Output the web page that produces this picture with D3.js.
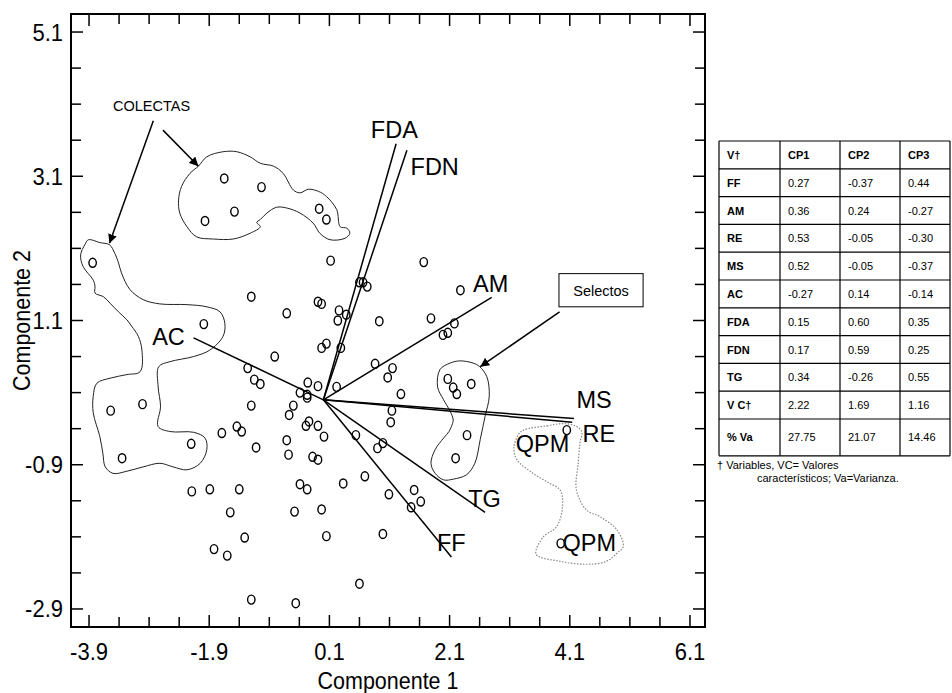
<!DOCTYPE html>
<html>
<head>
<meta charset="utf-8">
<script src="https://cdn.jsdelivr.net/npm/d3@7"></script>
<style>
body { margin: 0; background: #fff; }
text { font-family: Arial, "Liberation Sans", sans-serif; fill: #000; }
</style>
</head>
<body>
<script>
// individual scores (Componente 1, Componente 2)
var scores = [
  [-1.65,3.07],[-1.03,2.95],[-1.48,2.61],[-1.97,2.48],[-0.07,2.65],[0.05,2.50],
  [-3.84,1.90],[0.12,1.93],[-1.20,1.43],[0.60,1.63],[0.66,1.63],[0.73,1.57],
  [-0.09,1.36],[-0.03,1.33],[-0.61,1.20],[0.26,1.24],[0.38,1.18],[0.24,1.10],
  [0.93,1.09],[-1.99,1.05],[1.67,1.91],[2.28,1.52],[1.79,1.13],[2.18,1.06],
  [1.99,0.90],[2.07,0.93],[0.05,0.78],[-0.03,0.72],[0.29,0.72],[-0.81,0.60],
  [-1.26,0.44],[-1.15,0.28],[-1.05,0.22],[0.86,0.50],[1.15,0.44],[1.07,0.31],
  [1.29,0.08],[-0.26,0.24],[-0.09,0.19],[0.22,0.18],[-0.39,0.10],[-0.27,0.07],
  [-0.27,0.03],[-0.50,-0.08],[-0.57,-0.21],[1.14,-0.15],[1.12,-0.31],[-0.24,-0.30],
  [-0.29,-0.36],[-0.09,-0.36],[0.01,-0.51],[0.54,-0.49],[-0.61,-0.56],[0.99,-0.60],
  [0.90,-0.67],[-0.58,-0.76],[-0.18,-0.79],[-0.09,-0.83],[0.69,-1.06],[0.33,-1.16],
  [-0.39,-1.17],[-0.27,-1.24],[1.09,-1.31],[-0.48,-1.55],[-0.03,-1.52],[0.05,-1.89],
  [0.99,-1.86],[0.60,-2.55],[-0.46,-2.82],[-1.20,-2.77],[-1.82,-2.07],[-1.60,-2.16],
  [-1.31,-1.91],[-1.55,-1.56],[-2.19,-1.27],[-1.89,-1.24],[-1.40,-1.24],[-1.20,-0.08],
  [-1.69,-0.46],[-1.44,-0.37],[-1.36,-0.44],[-2.20,-0.61],[-1.12,-0.66],[-3.54,-0.15],
  [-3.01,-0.06],[-3.35,-0.81],[2.07,0.29],[2.16,0.17],[2.22,0.08],[2.46,0.22],
  [2.39,-0.49],[2.20,-0.81],[1.51,-1.25],[1.62,-1.41],[1.46,-1.49],[4.05,-0.42],
  [3.95,-1.99]
];

// variable vectors (end points on the biplot)
var vecNames = ["FDA", "FDN", "AM", "MS", "RE", "TG", "FF", "AC"];
var vecX = [1.21, 1.39, 2.80, 4.17, 4.14, 2.69, 2.13, -2.16];
var vecY = [3.55, 3.46, 1.42, -0.26, -0.31, -1.56, -2.18, 0.86];

// labels on the plot (text, x, baseline y)
var plotLabels = [
  ["FDA", 0.79, 3.63], ["FDN", 1.45, 3.12], ["AM", 2.49, 1.49], ["AC", -2.85, 0.76],
  ["MS", 4.21, -0.11], ["RE", 4.31, -0.58], ["QPM", 3.20, -0.73], ["TG", 2.41, -1.49],
  ["FF", 1.89, -2.10], ["QPM", 3.98, -2.10]
];

// hand-drawn group outlines
var colectasTop = [
  [-2.08,3.24],[-1.94,3.37],[-1.67,3.44],[-1.44,3.44],[-1.22,3.37],[-1.05,3.28],[-0.83,3.24],
  [-0.67,3.14],[-0.50,2.91],[-0.39,2.87],[-0.25,2.92],[-0.08,2.89],[0.05,2.82],[0.22,2.64],
  [0.28,2.40],[0.39,2.38],[0.44,2.31],[0.36,2.24],[0.11,2.22],[-0.06,2.31],[-0.17,2.45],
  [-0.39,2.59],[-0.61,2.66],[-0.78,2.67],[-0.94,2.59],[-1.05,2.50],[-1.11,2.46],[-1.05,2.40],
  [-1.22,2.31],[-1.50,2.23],[-1.83,2.23],[-2.11,2.26],[-2.27,2.40],[-2.39,2.59],[-2.41,2.77],
  [-2.36,2.96],[-2.22,3.14]
];
var colectasLeft = [
  [-3.91,2.22],[-3.72,2.18],[-3.56,2.15],[-3.47,2.03],[-3.41,1.90],[-3.36,1.76],[-3.22,1.53],
  [-3.00,1.39],[-2.72,1.33],[-2.27,1.32],[-1.94,1.29],[-1.72,1.22],[-1.64,1.06],[-1.67,0.88],
  [-1.89,0.69],[-2.16,0.60],[-2.55,0.53],[-2.74,0.46],[-2.75,0.18],[-2.71,-0.09],[-2.75,-0.37],
  [-2.55,-0.44],[-2.16,-0.45],[-1.97,-0.53],[-1.94,-0.69],[-2.05,-0.88],[-2.27,-0.97],
  [-2.50,-0.93],[-2.72,-0.88],[-3.00,-0.93],[-3.27,-0.99],[-3.50,-1.02],[-3.63,-0.93],
  [-3.67,-0.74],[-3.72,-0.51],[-3.83,-0.18],[-3.83,0.05],[-3.77,0.23],[-3.55,0.30],
  [-3.27,0.35],[-3.05,0.39],[-3.02,0.69],[-3.08,0.88],[-3.19,1.02],[-3.27,1.11],[-3.41,1.22],
  [-3.55,1.34],[-3.66,1.43],[-3.80,1.48],[-3.80,1.57],[-3.83,1.66],[-4.00,1.85],[-4.04,2.01],
  [-3.97,2.15]
];
var selectos = [
  [2.60,0.46],[2.72,0.32],[2.76,0.05],[2.69,-0.23],[2.61,-0.55],[2.52,-0.88],[2.38,-1.04],
  [2.16,-1.10],[2.00,-1.11],[1.86,-1.02],[1.79,-0.88],[1.86,-0.69],[2.00,-0.53],[2.09,-0.44],
  [2.13,-0.37],[2.16,-0.28],[2.11,-0.16],[2.00,0.00],[1.90,0.18],[1.94,0.42],[2.11,0.51],
  [2.27,0.54],[2.49,0.51]
];
var qpm = [
  [3.33,-0.42],[3.72,-0.36],[3.99,-0.33],[4.19,-0.36],[4.30,-0.44],[4.27,-0.60],[4.24,-0.88],
  [4.21,-1.25],[4.38,-1.53],[4.60,-1.62],[4.88,-1.80],[4.99,-2.03],[4.88,-2.13],[4.71,-2.24],
  [4.38,-2.28],[3.94,-2.24],[3.54,-2.14],[3.66,-1.90],[3.88,-1.76],[3.98,-1.48],[3.94,-1.25],
  [3.77,-1.16],[3.49,-1.02],[3.22,-0.83],[3.17,-0.67],[3.24,-0.49]
];

// annotation arrows [x1, y1, x2, y2]
var arrows = [[-2.83,3.87,-3.56,2.17], [-2.67,3.74,-2.08,3.24], [3.93,1.22,2.61,0.46]];

// ticks
var tickX = [-3.9, -1.9, 0.1, 2.1, 4.1, 6.1];
var tickY = [-2.9, -0.9, 1.1, 3.1, 5.1];

// table of loadings
var tableHead = ["V†", "CP1", "CP2", "CP3"];
var tableVars = ["FF", "AM", "RE", "MS", "AC", "FDA", "FDN", "TG", "V C†", "% Va"];
var cp1 = ["0.27", "0.36", "0.53", "0.52", "-0.27", "0.15", "0.17", "0.34", "2.22", "27.75"];
var cp2 = ["-0.37", "0.24", "-0.05", "-0.05", "0.14", "0.60", "0.59", "-0.26", "1.69", "21.07"];
var cp3 = ["0.44", "-0.27", "-0.30", "-0.37", "-0.14", "0.35", "0.25", "0.55", "1.16", "14.46"];
var footnote = ["† Variables, VC= Valores", "característicos; Va=Varianza."];

(function() {
var W = 952, H = 693;
var mL = 71, mR = 705, mT = 14, mB = 627;
var stretch = 1.12; // axis text in the original is drawn a little taller than wide

var svg = d3.select("body").append("svg")
    .attr("width", W)
    .attr("height", H);

var x = d3.scaleLinear().domain([-4.2, 6.35]).range([mL, mR]);
var y = d3.scaleLinear().domain([-3.15, 5.35]).range([mB, mT]);

svg.append("defs").append("marker")
    .attr("id", "head")
    .attr("viewBox", "0 0 10 10")
    .attr("refX", 10).attr("refY", 5)
    .attr("markerWidth", 9).attr("markerHeight", 9)
    .attr("markerUnits", "userSpaceOnUse")
    .attr("orient", "auto")
  .append("path")
    .attr("d", "M0,0L10,5L0,10z")
    .attr("fill", "#000");

// minor tick positions every 0.5
var minorX = d3.range(-3.9, 6.11, 0.5), minorY = d3.range(-2.9, 5.11, 0.5);
function isMajor(v, list) { return list.some(function(t) { return Math.abs(t - v) < 1e-6; }); }

var ax = svg.append("g").attr("stroke", "#000").attr("stroke-width", 1.5);
minorX.forEach(function(v) {
  var L = isMajor(v, tickX) ? 12 : 10;
  ax.append("line").attr("x1", x(v)).attr("x2", x(v)).attr("y1", mB).attr("y2", mB - L);
  ax.append("line").attr("x1", x(v)).attr("x2", x(v)).attr("y1", mT).attr("y2", mT + L);
});
minorY.forEach(function(v) {
  var L = isMajor(v, tickY) ? 12 : 10;
  ax.append("line").attr("y1", y(v)).attr("y2", y(v)).attr("x1", mL).attr("x2", mL + L);
  ax.append("line").attr("y1", y(v)).attr("y2", y(v)).attr("x1", mR).attr("x2", mR - L);
});
svg.append("rect")
    .attr("x", mL).attr("y", mT)
    .attr("width", mR - mL).attr("height", mB - mT)
    .attr("fill", "none").attr("stroke", "#000").attr("stroke-width", 2);

svg.selectAll(".tx").data(tickX).enter().append("text")
    .attr("transform", function(d) { return "translate(" + x(d) + "," + (mB + 33) + ") scale(1," + stretch + ")"; })
    .attr("text-anchor", "middle")
    .attr("font-size", 22)
    .text(function(d) { return d.toFixed(1); });
svg.selectAll(".ty").data(tickY).enter().append("text")
    .attr("transform", function(d) { return "translate(" + (mL - 8) + "," + (y(d) + 8.5) + ") scale(1," + stretch + ")"; })
    .attr("text-anchor", "end")
    .attr("font-size", 22)
    .text(function(d) { return d.toFixed(1); });

svg.append("text")
    .attr("transform", "translate(" + ((mL + mR) / 2) + ",689) scale(1," + stretch + ")")
    .attr("text-anchor", "middle").attr("font-size", 21.5)
    .text("Componente 1");
svg.append("text")
    .attr("transform", "translate(30," + ((mT + mB) / 2) + ") rotate(-90) scale(1," + stretch + ")")
    .attr("text-anchor", "middle").attr("font-size", 21.5)
    .text("Componente 2");

// group outlines
var outline = d3.line().x(function(d) { return x(d[0]); }).y(function(d) { return y(d[1]); })
    .curve(d3.curveCatmullRomClosed);
[colectasTop, colectasLeft, selectos].forEach(function(p) {
  svg.append("path").attr("d", outline(p))
      .attr("fill", "none").attr("stroke", "#222").attr("stroke-width", 1);
});
svg.append("path").attr("d", outline(qpm))
    .attr("fill", "none").attr("stroke", "#888").attr("stroke-width", 1.2)
    .attr("stroke-dasharray", "1.5,1.5");

// vectors
svg.selectAll(".vec").data(vecNames).enter().append("line")
    .attr("x1", x(0)).attr("y1", y(0))
    .attr("x2", function(d, i) { return x(vecX[i]); })
    .attr("y2", function(d, i) { return y(vecY[i]); })
    .attr("stroke", "#000").attr("stroke-width", 1.5);

// points
svg.selectAll(".pt").data(scores).enter().append("ellipse")
    .attr("cx", function(d) { return x(d[0]); })
    .attr("cy", function(d) { return y(d[1]); })
    .attr("rx", 3.7).attr("ry", 4.5)
    .attr("fill", "none").attr("stroke", "#000").attr("stroke-width", 1.4);

svg.selectAll(".lab").data(plotLabels).enter().append("text")
    .attr("x", function(d) { return x(d[1]); })
    .attr("y", function(d) { return y(d[2]); })
    .attr("font-size", 23.5)
    .text(function(d) { return d[0]; });

// annotations
svg.selectAll(".arr").data(arrows).enter().append("line")
    .attr("x1", function(d) { return x(d[0]); }).attr("y1", function(d) { return y(d[1]); })
    .attr("x2", function(d) { return x(d[2]); }).attr("y2", function(d) { return y(d[3]); })
    .attr("stroke", "#000").attr("stroke-width", 1.5)
    .attr("marker-end", "url(#head)");
svg.append("text")
    .attr("x", x(-2.86)).attr("y", y(4.0))
    .attr("text-anchor", "middle").attr("font-size", 14.5)
    .text("COLECTAS");
svg.append("rect")
    .attr("x", x(3.92)).attr("y", y(1.75))
    .attr("width", x(5.32) - x(3.92)).attr("height", y(1.29) - y(1.75))
    .attr("fill", "#fff").attr("stroke", "#000").attr("stroke-width", 1);
svg.append("text")
    .attr("x", x(4.62)).attr("y", y(1.44))
    .attr("text-anchor", "middle").attr("font-size", 14.5)
    .text("Selectos");

// loadings table
var colX = [719, 780, 840, 900, 950];
var rowTop = 141, rowH = 27.8;
var tb = svg.append("g");
var rows = [tableHead].concat(tableVars.map(function(v, i) { return [v, cp1[i], cp2[i], cp3[i]]; }));
var rowY = rows.map(function(r, i) { return rowTop + i * rowH; });
var lastH = rowH + 9;
var tableBottom = rowY[rows.length - 1] + lastH;
rows.forEach(function(r, i) {
  var h = i === rows.length - 1 ? lastH : rowH;
  r.forEach(function(c, j) {
    tb.append("text")
        .attr("x", colX[j] + 8)
        .attr("y", rowY[i] + h / 2 + 4)
        .attr("font-size", 11)
        .attr("font-weight", (i === 0 || j === 0) ? "bold" : "normal")
        .text(c);
  });
});
var hLines = rowY.concat([tableBottom]);
tb.selectAll(".hl").data(hLines).enter().append("line")
    .attr("x1", colX[0]).attr("x2", colX[4])
    .attr("y1", function(d) { return d; }).attr("y2", function(d) { return d; })
    .attr("stroke", "#000").attr("stroke-width", 1.2);
tb.selectAll(".vl").data(colX).enter().append("line")
    .attr("x1", function(d) { return d; }).attr("x2", function(d) { return d; })
    .attr("y1", rowTop).attr("y2", tableBottom)
    .attr("stroke", "#000").attr("stroke-width", 1.2);
tb.append("text").attr("x", 717).attr("y", tableBottom + 13).attr("font-size", 11).text(footnote[0]);
tb.append("text").attr("x", 757).attr("y", tableBottom + 26).attr("font-size", 11).text(footnote[1]);
})();
</script>
</body>
</html>
